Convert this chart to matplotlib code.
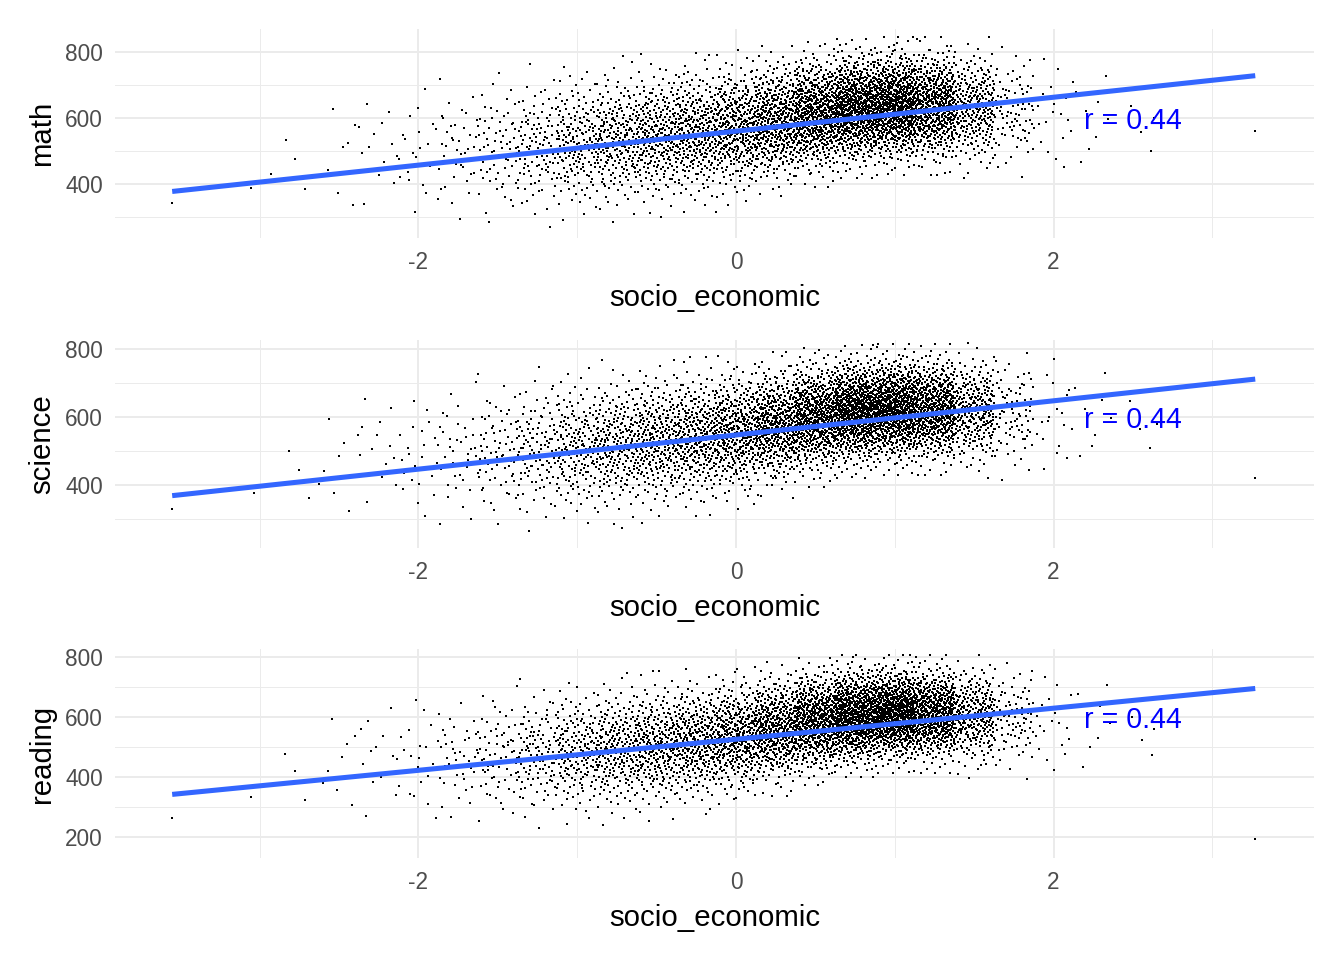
import matplotlib.pyplot as plt
from matplotlib.ticker import MultipleLocator
from statistics import NormalDist

plt.rcParams['font.family'] = ['Liberation Sans', 'DejaVu Sans']
plt.rcParams['axes.unicode_minus'] = False

# socio_economic bins (centre of each 0.25 wide bin) and how many students fall in each
x_bins = [-3.0, -2.75, -2.5, -2.25, -2.0, -1.75, -1.5, -1.25, -1.0, -0.75, -0.5, -0.25,
          0.0, 0.25, 0.5, 0.75, 1.0, 1.25, 1.5, 1.75, 2.0, 2.25, 2.5, 2.75]
bin_w = 0.25
counts = [2, 3, 8, 14, 22, 40, 70, 115, 175, 225, 270, 310,
          360, 440, 570, 700, 720, 560, 270, 85, 20, 8, 3, 1]

# per-bin centre and spread of the scores
math_mean = [450, 470, 480, 495, 500, 505, 510, 515, 525, 535, 545, 555,
             570, 590, 610, 628, 635, 635, 630, 620, 610, 600, 580, 600]
math_sd = [95, 95, 95, 95, 95, 95, 94, 94, 93, 92, 90, 88,
           86, 83, 80, 77, 76, 76, 78, 82, 86, 90, 90, 60]
science_mean = [440, 455, 470, 480, 490, 495, 500, 505, 512, 520, 530, 542,
                555, 575, 598, 615, 622, 622, 618, 610, 605, 595, 580, 580]
science_sd = [95, 95, 95, 95, 94, 93, 92, 92, 91, 90, 88, 85,
              82, 78, 74, 71, 70, 70, 72, 78, 84, 88, 90, 60]
reading_mean = [400, 420, 440, 450, 460, 465, 470, 478, 485, 495, 505, 518,
                535, 560, 585, 603, 610, 610, 604, 595, 585, 570, 560, 560]
reading_sd = [100, 100, 100, 100, 98, 96, 95, 95, 94, 93, 91, 88,
              85, 81, 77, 74, 72, 72, 75, 80, 86, 90, 90, 60]

# the two far-out students at each end
extra_x = [-3.55, 3.27]
math_extra = [340, 560]
science_extra = [330, 420]
reading_extra = [265, 195]

# fitted lines (intercept, slope) and y limits per subject
subjects = ['math', 'science', 'reading']
intercepts = [559, 547, 526]
slopes = [51.5, 50.2, 51.8]
ylims = [(235, 869), (215, 826), (130, 827)]
r_text = 'r = 0.44'


def halton(i, base):
    f, r = 1.0, 0.0
    while i > 0:
        f /= base
        r += f * (i % base)
        i //= base
    return r


def bin_points(means, sds, offset):
    # spread each bin's students over the bin with a Halton (2, 3) pattern:
    # first coordinate -> position in the bin, second -> normal quantile of the score
    nd = NormalDist()
    xs, ys = [], []
    idx = offset
    for c, n, m, s in zip(x_bins, counts, means, sds):
        lo = max(0.5 / n, 0.003)
        for k in range(n):
            idx += 1
            u = halton(idx, 2)
            v = min(max(halton(idx, 3), lo), 1 - lo)
            xs.append(c - bin_w / 2 + u * bin_w)
            ys.append(m + s * nd.inv_cdf(v))
    return xs, ys


means = [math_mean, science_mean, reading_mean]
sds = [math_sd, science_sd, reading_sd]
extras = [math_extra, science_extra, reading_extra]

fig = plt.figure(figsize=(14, 10), dpi=96)
W, H = 1344, 960
panels = [(29, 238), (340, 548), (649, 858)]
left, right = 115, 1314

for i, name in enumerate(subjects):
    top, bot = panels[i]
    ax = fig.add_axes([left / W, 1 - bot / H, (right - left) / W, (bot - top) / H])
    xs, ys = bin_points(means[i], sds[i], 17 + 9000 * i)
    xs = xs + extra_x
    ys = ys + extras[i]
    ax.scatter(xs, ys, s=3.6, marker='s', c='black', linewidths=0,
               antialiased=False, zorder=2)

    lx = [min(xs), max(xs)]
    ly = [intercepts[i] + slopes[i] * v for v in lx]
    ax.plot(lx, ly, color='#3366FF', lw=3.8, solid_capstyle='butt', zorder=3)
    ax.text(2.5, 600, r_text, color='blue', fontsize=21.5, ha='center',
            va='center_baseline', zorder=4)

    ax.set_xlim(-3.91, 3.64)
    ax.set_ylim(*ylims[i])
    ax.xaxis.set_major_locator(MultipleLocator(2))
    ax.xaxis.set_minor_locator(MultipleLocator(1))
    ax.yaxis.set_major_locator(MultipleLocator(200))
    ax.yaxis.set_minor_locator(MultipleLocator(100))
    ax.grid(which='major', color='#EBEBEB', lw=1.5, zorder=0)
    ax.grid(which='minor', color='#EBEBEB', lw=0.75, zorder=0)
    ax.set_axisbelow(True)
    for sp in ax.spines.values():
        sp.set_visible(False)
    ax.tick_params(which='both', length=0, labelsize=17, labelcolor='#4D4D4D')
    ax.tick_params(axis='x', pad=10)
    ax.tick_params(axis='y', pad=9)
    ax.set_xlabel('socio_economic', fontsize=22, labelpad=7.5)
    ax.set_ylabel(name, fontsize=22, labelpad=7)

fig.savefig('out.png', dpi=96)
